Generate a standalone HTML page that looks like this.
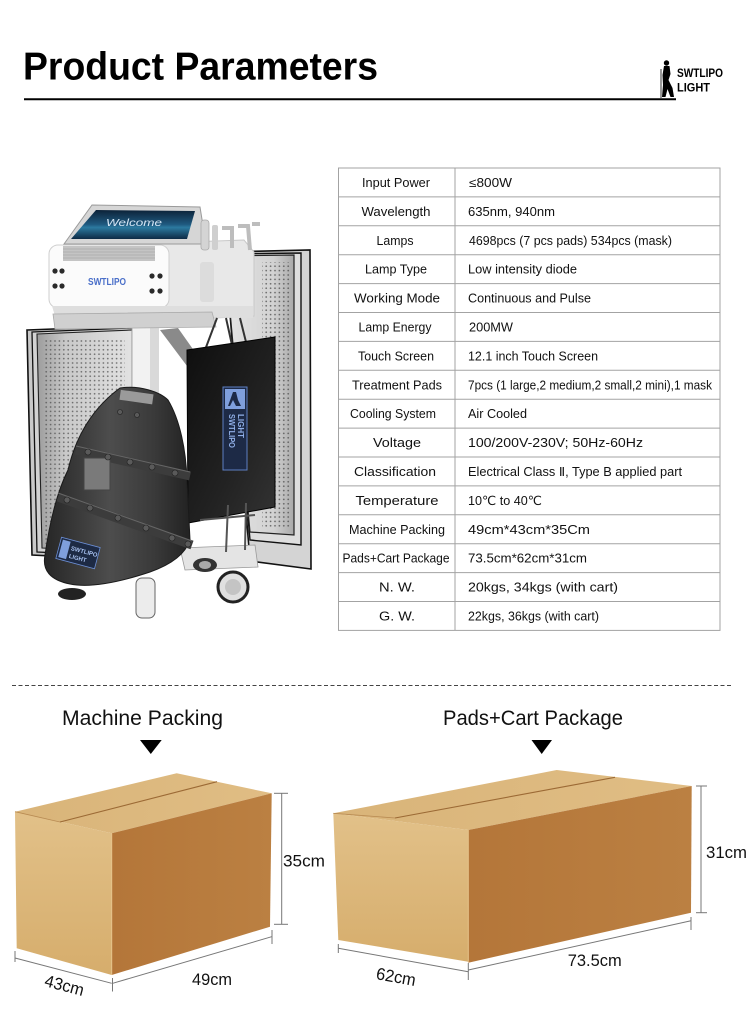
<!DOCTYPE html>
<html><head><meta charset="utf-8"><style>
html,body{margin:0;padding:0;background:#fff;}
svg{display:block;}
text{font-family:"Liberation Sans","DejaVu Sans","Noto Sans CJK SC",sans-serif;}
</style></head><body>
<svg width="750" height="1012" viewBox="0 0 750 1012" xmlns="http://www.w3.org/2000/svg">
<defs>
<pattern id="dots" width="4.4" height="4.4" patternUnits="userSpaceOnUse"><circle cx="2.2" cy="2.2" r="0.85" fill="#4a4a4a"/></pattern>
<linearGradient id="gL" x1="0" y1="0" x2="1" y2="0"><stop offset="0" stop-color="#9c9c9c"/><stop offset="0.3" stop-color="#c9c9c9"/><stop offset="1" stop-color="#e2e2e2"/></linearGradient>
<linearGradient id="gR" x1="0" y1="0" x2="1" y2="0"><stop offset="0" stop-color="#e6e6e6"/><stop offset="0.7" stop-color="#d2d2d2"/><stop offset="1" stop-color="#a9a9a9"/></linearGradient>
<linearGradient id="gScreen" x1="0" y1="0" x2="0" y2="1"><stop offset="0" stop-color="#0c2238"/><stop offset="0.5" stop-color="#1f5a80"/><stop offset="0.6" stop-color="#2c7aa0"/><stop offset="1" stop-color="#0d2a45"/></linearGradient>
<linearGradient id="gPad" x1="0" y1="0" x2="1" y2="1"><stop offset="0" stop-color="#0e0e0e"/><stop offset="0.6" stop-color="#222"/><stop offset="1" stop-color="#333"/></linearGradient>
<linearGradient id="gMask" x1="0" y1="0" x2="1" y2="0"><stop offset="0" stop-color="#262626"/><stop offset="0.45" stop-color="#4d4d4d"/><stop offset="0.75" stop-color="#3a3a3a"/><stop offset="1" stop-color="#222"/></linearGradient>
<linearGradient id="gTop1" x1="0" y1="0" x2="1" y2="0"><stop offset="0" stop-color="#d9b479"/><stop offset="1" stop-color="#e0bd84"/></linearGradient>
<linearGradient id="gLeft1" x1="0" y1="0" x2="0" y2="1"><stop offset="0" stop-color="#e2c189"/><stop offset="1" stop-color="#d6ad6c"/></linearGradient>
<linearGradient id="gRight1" x1="0" y1="0" x2="1" y2="0"><stop offset="0" stop-color="#b47639"/><stop offset="1" stop-color="#bb8042"/></linearGradient>
</defs>

<!-- Header -->
<text x="23" y="79.5" font-size="38.5" font-weight="bold" fill="#000" textLength="355" lengthAdjust="spacingAndGlyphs">Product Parameters</text>
<line x1="24" y1="99.3" x2="676" y2="99.3" stroke="#000" stroke-width="2"/>
<line x1="661" y1="69" x2="661" y2="98" stroke="#000" stroke-width="0.8"/>
<circle cx="666.5" cy="63" r="2.7" fill="#000"/>
<path d="M664,66 L669.5,66 L670.5,74 L668.5,80 L672.5,88 L674,97 L670.5,97 L667.5,89 L665.5,97 L662,97 L663,85 L662.5,75 Z" fill="#000"/>
<text x="677" y="77" font-size="11.5" font-weight="bold" fill="#000" textLength="46" lengthAdjust="spacingAndGlyphs">SWTLIPO</text>
<text x="677" y="91.5" font-size="11.5" font-weight="bold" fill="#000" textLength="33" lengthAdjust="spacingAndGlyphs">LIGHT</text>

<!-- Machine illustration -->
<!-- right panels -->
<polygon points="225,252 310,250 311,569 250,561" fill="#d4d4d4" stroke="#111" stroke-width="1.6"/>
<polygon points="225,254 301,253 301,545 250,540" fill="#dedede" stroke="#111" stroke-width="1.4"/>
<polygon points="225,256 294,255 294,535 250,532" fill="url(#gR)" stroke="#222" stroke-width="1.2"/>
<rect x="262" y="262" width="28" height="265" fill="url(#dots)" opacity="0.8"/>
<!-- left panels -->
<polygon points="27,330 132,326 132,560 32,555" fill="#c9c9c9" stroke="#111" stroke-width="1.6"/>
<polygon points="32,332 132,328 132,556 37,552" fill="#d2d2d2" stroke="#111" stroke-width="1.3"/>
<polygon points="37,334 132,330 132,552 42,548" fill="url(#gL)" stroke="#222" stroke-width="1.1"/>
<rect x="45" y="340" width="80" height="205" fill="url(#dots)" opacity="0.75"/>
<!-- pole & bracket -->
<rect x="132" y="322" width="26" height="90" fill="#f2f2f2" stroke="#aaa" stroke-width="1"/>
<rect x="150" y="322" width="9" height="90" fill="#d9d9d9"/>
<polygon points="160,330 178,328 202,362 190,370" fill="#8a8a8a"/>
<!-- head -->
<polygon points="160,243 244,240 254,252 254,316 176,320 164,306" fill="#e8e8e8" stroke="#c8c8c8" stroke-width="1"/>
<rect x="200" y="262" width="14" height="40" rx="3" fill="#dcdcdc"/>
<rect x="49" y="245" width="120" height="63" rx="9" fill="#fbfbfb" stroke="#cfcfcf" stroke-width="1"/>
<rect x="63" y="246" width="92" height="15" fill="#c4c4c4"/>
<g stroke="#9a9a9a" stroke-width="0.6"><line x1="63" y1="249" x2="155" y2="249"/><line x1="63" y1="252" x2="155" y2="252"/><line x1="63" y1="255" x2="155" y2="255"/><line x1="63" y1="258" x2="155" y2="258"/></g>
<circle cx="55" cy="271" r="2.6" fill="#2a2a2a"/><circle cx="62" cy="271" r="2.6" fill="#2a2a2a"/>
<circle cx="55" cy="286" r="2.6" fill="#2a2a2a"/><circle cx="62" cy="286" r="2.6" fill="#2a2a2a"/>
<circle cx="152" cy="276" r="2.6" fill="#2a2a2a"/><circle cx="160" cy="276" r="2.6" fill="#2a2a2a"/>
<circle cx="152" cy="291" r="2.6" fill="#2a2a2a"/><circle cx="160" cy="291" r="2.6" fill="#2a2a2a"/>
<text x="88" y="285" font-size="10" font-weight="bold" fill="#4a6fc9" textLength="38" lengthAdjust="spacingAndGlyphs">SWTLIPO</text>
<polygon points="52,306 253,306 253,318 55,316" fill="#dedede"/>
<polygon points="53,314 212,312 216,327 55,329" fill="#d0d0d0" stroke="#aaa" stroke-width="0.8"/>
<!-- screen -->
<polygon points="64,244 92,205 200,207 206,244" fill="#d6d6d6" stroke="#9a9a9a" stroke-width="1"/>
<polygon points="71,239 96,210 195,211 187,239" fill="url(#gScreen)"/>
<text x="106" y="226" font-size="10.5" font-style="italic" fill="#d5e6f5" textLength="56" lengthAdjust="spacingAndGlyphs">Welcome</text>
<!-- handles -->
<rect x="201" y="220" width="8" height="30" rx="3" fill="#d4d4d4" stroke="#aaa" stroke-width="0.8"/>
<rect x="212" y="225" width="6" height="25" rx="2" fill="#cfcfcf"/>
<path d="M222,228 L232,228 L232,248 M238,226 L248,226 L250,250 M252,224 L260,224" stroke="#bdbdbd" stroke-width="4" fill="none"/>
<!-- pad straps -->
<path d="M217,318 L205,350 M226,318 L232,345 M240,318 L246,342" stroke="#333" stroke-width="2" fill="none"/>
<!-- black pad -->
<polygon points="187,350 275,337 275,507 188,523" fill="url(#gPad)" stroke="#000" stroke-width="1"/>
<rect x="223" y="387" width="24" height="83" fill="#1d2a46" stroke="#5d7fc2" stroke-width="1"/>
<rect x="225" y="389" width="20" height="20" fill="#7f9fdc"/>
<path d="M233,392 L236,392 L238,400 L241,406 L236,406 L233,400 L230,406 L228,406 Z" fill="#1d2a46"/>
<text transform="translate(229,414) rotate(90)" font-size="8" font-weight="bold" fill="#8faee6" textLength="34" lengthAdjust="spacingAndGlyphs">SWTLIPO</text>
<text transform="translate(238,414) rotate(90)" font-size="8" font-weight="bold" fill="#8faee6" textLength="24" lengthAdjust="spacingAndGlyphs">LIGHT</text>
<!-- stand under pad -->
<polygon points="180,548 255,545 258,567 185,570" fill="#e4e4e4" stroke="#999" stroke-width="0.8"/>
<g stroke="#555" stroke-width="2"><line x1="228" y1="505" x2="226" y2="552"/><line x1="246" y1="503" x2="245" y2="550"/><line x1="200" y1="520" x2="255" y2="515"/></g>
<!-- mask -->
<path d="M120,388 C140,385 160,392 168,400 C180,420 186,450 187,480 L190,540 C185,555 170,565 150,572 C120,582 90,588 70,584 C50,580 42,570 45,555 C50,520 58,490 68,470 C75,440 90,410 120,388 Z" fill="url(#gMask)" stroke="#1a1a1a" stroke-width="1"/>
<rect x="120" y="392" width="33" height="10" fill="#9a9a9a" transform="rotate(8 136 397)"/>
<line x1="76" y1="450" x2="190" y2="476" stroke="#3c3c3c" stroke-width="9"/>
<line x1="76" y1="446" x2="190" y2="472" stroke="#666" stroke-width="1"/>
<line x1="58" y1="497" x2="192" y2="545" stroke="#3c3c3c" stroke-width="9"/>
<line x1="58" y1="493" x2="192" y2="541" stroke="#666" stroke-width="1"/>
<rect x="84" y="458" width="26" height="32" fill="#7a7a7a" stroke="#444" stroke-width="1"/>
<g fill="#5a5a5a" stroke="#222" stroke-width="0.6">
<circle cx="88" cy="452" r="3"/><circle cx="108" cy="457" r="3"/><circle cx="130" cy="462" r="3"/><circle cx="152" cy="467" r="3"/><circle cx="175" cy="473" r="3"/>
<circle cx="67" cy="500" r="3"/><circle cx="90" cy="508" r="3"/><circle cx="118" cy="518" r="3"/><circle cx="146" cy="528" r="3"/><circle cx="172" cy="538" r="3"/><circle cx="188" cy="544" r="3"/>
<circle cx="120" cy="412" r="2.5"/><circle cx="137" cy="415" r="2.5"/></g>
<g transform="rotate(15 78 553)">
<rect x="58" y="542" width="40" height="22" fill="#1d2a44" stroke="#6c8fd6" stroke-width="0.8"/>
<rect x="60" y="544" width="8" height="18" fill="#7f9fdc"/>
<text x="70" y="552" font-size="6" font-weight="bold" fill="#a7c0ee">SWTLIPO</text>
<text x="70" y="560" font-size="6" font-weight="bold" fill="#a7c0ee">LIGHT</text>
</g>
<!-- wheels -->
<ellipse cx="72" cy="594" rx="14" ry="6" fill="#222"/>
<rect x="136" y="578" width="19" height="40" rx="6" fill="#ececec" stroke="#666" stroke-width="1"/>
<ellipse cx="205" cy="565" rx="12" ry="7" fill="#333"/>
<ellipse cx="205" cy="565" rx="6" ry="4" fill="#aaa"/>
<circle cx="233" cy="587" r="15" fill="#e0e0e0" stroke="#222" stroke-width="3"/>
<circle cx="233" cy="587" r="8" fill="#c4c4c4"/>

<!-- Table -->
<g stroke="#a3a3a3" stroke-width="1" fill="none">
<rect x="338.5" y="168" width="381.5" height="462.4"/>
<line x1="455" y1="168" x2="455" y2="630.4"/>
<line x1="338.5" y1="196.9" x2="720" y2="196.9"/>
<line x1="338.5" y1="225.8" x2="720" y2="225.8"/>
<line x1="338.5" y1="254.7" x2="720" y2="254.7"/>
<line x1="338.5" y1="283.6" x2="720" y2="283.6"/>
<line x1="338.5" y1="312.5" x2="720" y2="312.5"/>
<line x1="338.5" y1="341.4" x2="720" y2="341.4"/>
<line x1="338.5" y1="370.3" x2="720" y2="370.3"/>
<line x1="338.5" y1="399.2" x2="720" y2="399.2"/>
<line x1="338.5" y1="428.1" x2="720" y2="428.1"/>
<line x1="338.5" y1="457" x2="720" y2="457"/>
<line x1="338.5" y1="485.9" x2="720" y2="485.9"/>
<line x1="338.5" y1="514.8" x2="720" y2="514.8"/>
<line x1="338.5" y1="543.7" x2="720" y2="543.7"/>
<line x1="338.5" y1="572.6" x2="720" y2="572.6"/>
<line x1="338.5" y1="601.5" x2="720" y2="601.5"/>
</g>
<g font-size="12.5" fill="#111" text-anchor="middle" lengthAdjust="spacingAndGlyphs">
<text x="396" y="187" textLength="68" lengthAdjust="spacingAndGlyphs">Input Power</text>
<text x="396" y="215.9" textLength="69" lengthAdjust="spacingAndGlyphs">Wavelength</text>
<text x="395" y="244.8" textLength="37" lengthAdjust="spacingAndGlyphs">Lamps</text>
<text x="396" y="273.7" textLength="62" lengthAdjust="spacingAndGlyphs">Lamp Type</text>
<text x="397" y="302.6" textLength="86" lengthAdjust="spacingAndGlyphs">Working Mode</text>
<text x="395" y="331.5" textLength="73" lengthAdjust="spacingAndGlyphs">Lamp Energy</text>
<text x="396" y="360.4" textLength="76" lengthAdjust="spacingAndGlyphs">Touch Screen</text>
<text x="397" y="389.3" textLength="90" lengthAdjust="spacingAndGlyphs">Treatment Pads</text>
<text x="393" y="418.2" textLength="86" lengthAdjust="spacingAndGlyphs">Cooling System</text>
<text x="397" y="447.1" textLength="48" lengthAdjust="spacingAndGlyphs">Voltage</text>
<text x="395" y="476" textLength="82" lengthAdjust="spacingAndGlyphs">Classification</text>
<text x="397" y="504.9" textLength="83" lengthAdjust="spacingAndGlyphs">Temperature</text>
<text x="397" y="533.8" textLength="96" lengthAdjust="spacingAndGlyphs">Machine Packing</text>
<text x="396" y="562.7" textLength="107" lengthAdjust="spacingAndGlyphs">Pads+Cart Package</text>
<text x="397" y="591.6" textLength="36" lengthAdjust="spacingAndGlyphs">N. W.</text>
<text x="397" y="620.5" textLength="36" lengthAdjust="spacingAndGlyphs">G. W.</text>
</g>
<g font-size="12.5" fill="#111">
<text x="469" y="187" textLength="43" lengthAdjust="spacingAndGlyphs">≤800W</text>
<text x="468" y="215.9" textLength="87" lengthAdjust="spacingAndGlyphs">635nm, 940nm</text>
<text x="469" y="244.8" textLength="203" lengthAdjust="spacingAndGlyphs">4698pcs (7 pcs pads)  534pcs (mask)</text>
<text x="468" y="273.7" textLength="109" lengthAdjust="spacingAndGlyphs">Low intensity diode</text>
<text x="468" y="302.6" textLength="123" lengthAdjust="spacingAndGlyphs">Continuous and Pulse</text>
<text x="469" y="331.5" textLength="44" lengthAdjust="spacingAndGlyphs">200MW</text>
<text x="468" y="360.4" textLength="130" lengthAdjust="spacingAndGlyphs">12.1 inch Touch Screen</text>
<text x="468" y="389.3" textLength="244" lengthAdjust="spacingAndGlyphs">7pcs (1 large,2 medium,2 small,2 mini),1 mask</text>
<text x="468" y="418.2" textLength="59" lengthAdjust="spacingAndGlyphs">Air Cooled</text>
<text x="468" y="447.1" textLength="175" lengthAdjust="spacingAndGlyphs">100/200V-230V; 50Hz-60Hz</text>
<text x="468" y="476" textLength="214" lengthAdjust="spacingAndGlyphs">Electrical Class Ⅱ, Type B applied part</text>
<text x="468" y="504.9" textLength="74" lengthAdjust="spacingAndGlyphs">10℃ to 40℃</text>
<text x="468" y="533.8" textLength="122" lengthAdjust="spacingAndGlyphs">49cm*43cm*35Cm</text>
<text x="468" y="562.7" textLength="119" lengthAdjust="spacingAndGlyphs">73.5cm*62cm*31cm</text>
<text x="468" y="591.6" textLength="150" lengthAdjust="spacingAndGlyphs">20kgs, 34kgs (with cart)</text>
<text x="468" y="620.5" textLength="131" lengthAdjust="spacingAndGlyphs">22kgs, 36kgs (with cart)</text>
</g>

<!-- Dashed separator -->
<line x1="12" y1="685.5" x2="732" y2="685.5" stroke="#444" stroke-width="1" stroke-dasharray="4 2.5"/>

<!-- Titles -->
<text x="62" y="725" font-size="21.5" fill="#111" textLength="161" lengthAdjust="spacingAndGlyphs">Machine Packing</text>
<polygon points="140,740 161.7,740 150.8,754" fill="#000"/>
<text x="443" y="725" font-size="21.5" fill="#111" textLength="180" lengthAdjust="spacingAndGlyphs">Pads+Cart Package</text>
<polygon points="531.5,740 552,740 541.7,754" fill="#000"/>

<!-- Box 1 -->
<polygon points="15,811.7 176.7,773.3 271.7,793.3 111.7,833.3" fill="url(#gTop1)"/>
<polygon points="15,811.7 111.7,833.3 111.7,975 16.7,948.3" fill="url(#gLeft1)"/>
<polygon points="111.7,833.3 271.7,793.3 270,926.7 111.7,975" fill="url(#gRight1)"/>
<line x1="60" y1="822" x2="217" y2="781.7" stroke="#9c6a35" stroke-width="1.1"/>
<line x1="15" y1="811.7" x2="60" y2="822" stroke="#b88a52" stroke-width="0.8"/>
<line x1="111.7" y1="833.3" x2="111.7" y2="975" stroke="#e6c48c" stroke-width="1"/>
<g stroke="#777" stroke-width="1" fill="none">
<line x1="281.7" y1="793.3" x2="281.7" y2="924.3"/>
<line x1="274" y1="793.3" x2="288" y2="793.3"/>
<line x1="274" y1="924.3" x2="288" y2="924.3"/>
<line x1="15" y1="958" x2="111.7" y2="983.3"/>
<line x1="15" y1="951" x2="15" y2="962"/>
<line x1="112.5" y1="978" x2="112.5" y2="991.5"/>
<line x1="112.7" y1="983.3" x2="271.7" y2="936.7"/>
<line x1="272" y1="930" x2="272" y2="944"/>
</g>
<text x="283" y="866.5" font-size="17" fill="#111" textLength="42" lengthAdjust="spacingAndGlyphs">35cm</text>
<text x="212" y="985" font-size="17" fill="#111" text-anchor="middle" textLength="40" lengthAdjust="spacingAndGlyphs">49cm</text>
<text transform="translate(63,991) rotate(14.7)" font-size="17" fill="#111" text-anchor="middle" textLength="40" lengthAdjust="spacingAndGlyphs">43cm</text>

<!-- Box 2 -->
<polygon points="333.3,813.3 556.7,770 691.7,786 468.3,830" fill="url(#gTop1)"/>
<polygon points="333.3,813.3 468.3,830 468.3,961.7 338.3,940" fill="url(#gLeft1)"/>
<polygon points="468.3,830 691.7,786 691,912.7 468.3,962.7" fill="url(#gRight1)"/>
<line x1="395" y1="818" x2="615" y2="777.3" stroke="#9c6a35" stroke-width="1.1"/>
<line x1="333.3" y1="813.3" x2="395" y2="818" stroke="#b88a52" stroke-width="0.8"/>
<line x1="468.3" y1="830" x2="468.3" y2="962" stroke="#e6c48c" stroke-width="1"/>
<g stroke="#777" stroke-width="1" fill="none">
<line x1="701" y1="786" x2="701" y2="912.7"/>
<line x1="696" y1="786" x2="707" y2="786"/>
<line x1="696" y1="912.7" x2="707" y2="912.7"/>
<line x1="338.3" y1="948.3" x2="468.3" y2="971.7"/>
<line x1="338.3" y1="944" x2="338.3" y2="953"/>
<line x1="468.3" y1="963" x2="468.3" y2="980"/>
<line x1="468.3" y1="970" x2="691" y2="920.7"/>
<line x1="691" y1="917" x2="691" y2="930"/>
</g>
<text x="706" y="858" font-size="17" fill="#111" textLength="41" lengthAdjust="spacingAndGlyphs">31cm</text>
<text x="594.7" y="966" font-size="17" fill="#111" text-anchor="middle" textLength="54" lengthAdjust="spacingAndGlyphs">73.5cm</text>
<text transform="translate(395,982.5) rotate(10.2)" font-size="17" fill="#111" text-anchor="middle" textLength="40" lengthAdjust="spacingAndGlyphs">62cm</text>
</svg>
</body></html>
